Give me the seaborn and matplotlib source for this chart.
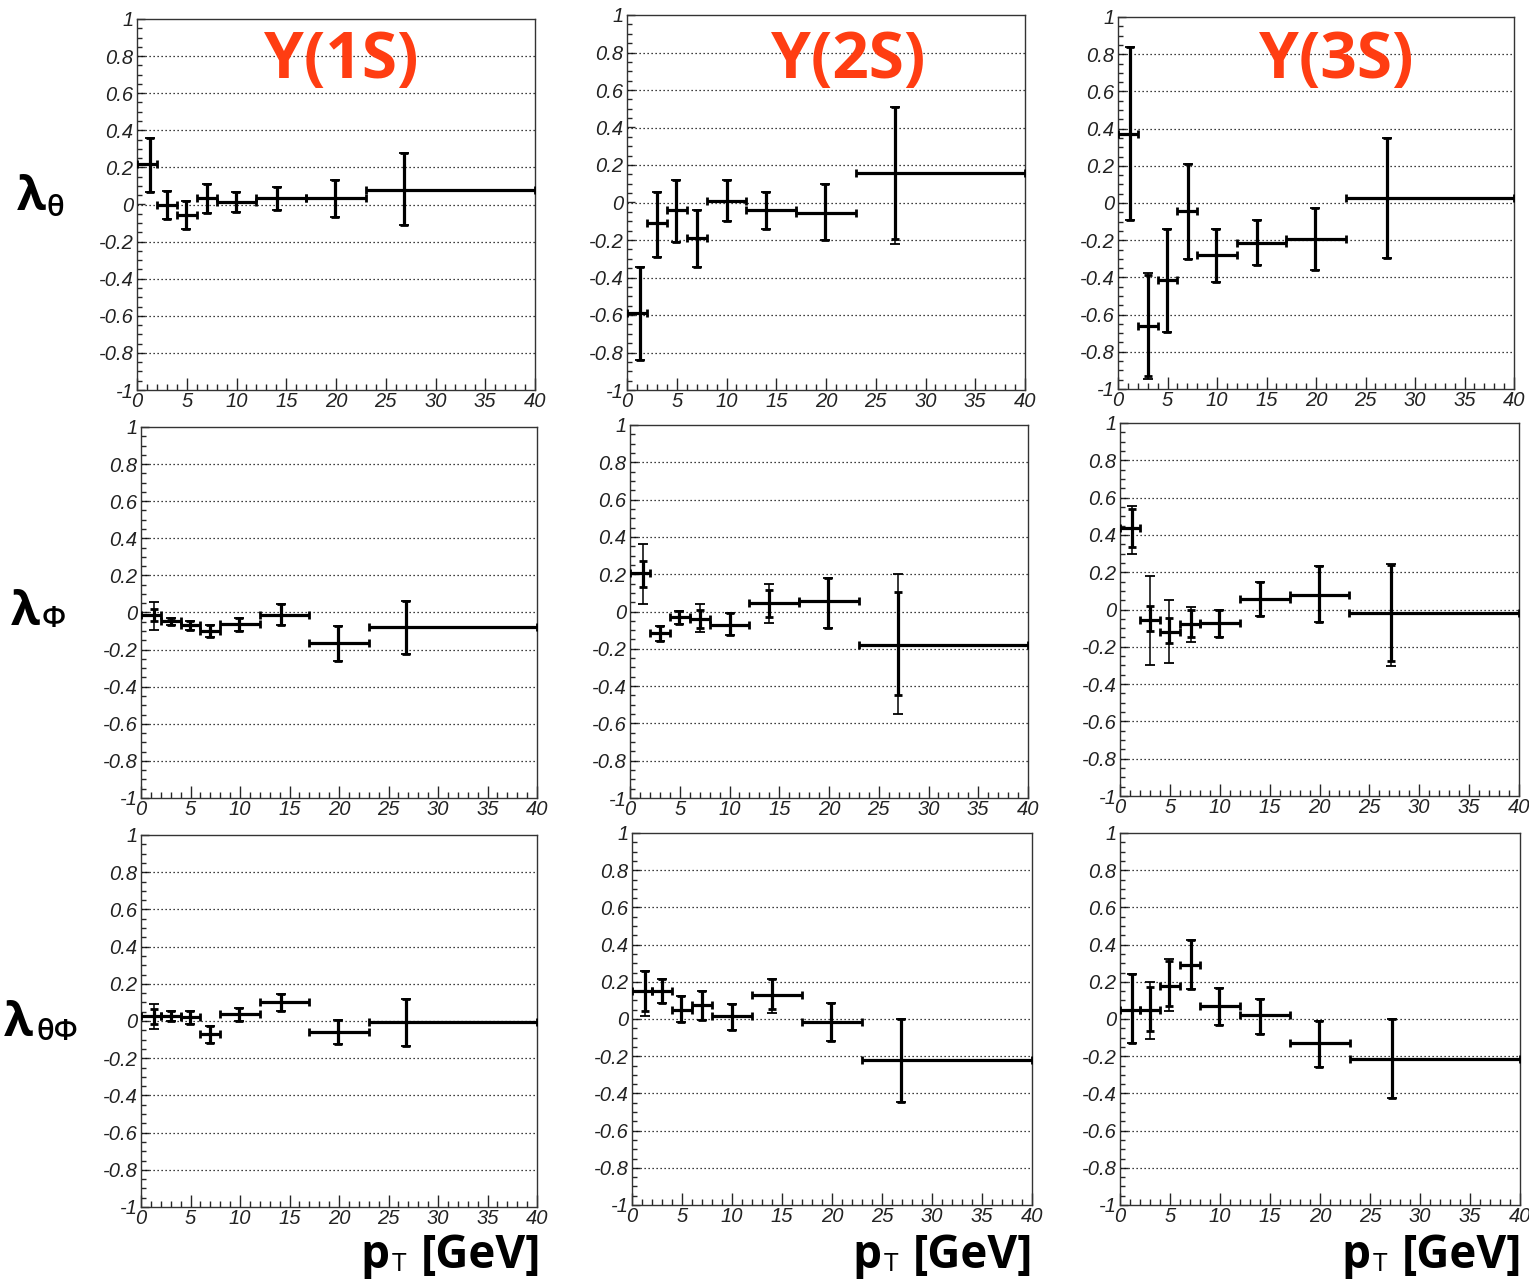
import numpy as np
import matplotlib
matplotlib.use("Agg")
import matplotlib.pyplot as plt
import seaborn as sns
from matplotlib.ticker import MultipleLocator, FuncFormatter

# ---------------- data ----------------
states = ["1S", "2S", "3S"]
params = ["theta", "phi", "thetaphi"]

pt_edges = [0, 2, 4, 6, 8, 12, 17, 23, 40]
pt_1S = [1.3, 3.0, 4.9, 7.0, 9.9, 14.1, 19.9, 26.8]
pt_2S = [1.3, 3.0, 4.9, 7.0, 10.0, 14.0, 19.9, 26.9]
pt_3S = [1.2, 3.0, 4.9, 7.1, 9.9, 14.0, 19.9, 27.2]

# lambda_theta
lth_1S = [0.22, 0.0, -0.057, 0.036, 0.013, 0.034, 0.034, 0.08]
lth_1S_lo = [0.07, -0.077, -0.13, -0.045, -0.04, -0.032, -0.066, -0.113]
lth_1S_hi = [0.36, 0.075, 0.018, 0.11, 0.068, 0.093, 0.133, 0.28]
lth_1S_tlo = [0.07, -0.077, -0.13, -0.045, -0.04, -0.032, -0.066, -0.113]
lth_1S_thi = [0.36, 0.075, 0.018, 0.11, 0.068, 0.093, 0.133, 0.28]

lth_2S = [-0.59, -0.11, -0.04, -0.19, 0.01, -0.04, -0.057, 0.155]
lth_2S_lo = [-0.84, -0.29, -0.21, -0.345, -0.10, -0.14, -0.2, -0.195]
lth_2S_hi = [-0.343, 0.057, 0.12, -0.04, 0.12, 0.057, 0.1, 0.507]
lth_2S_tlo = [-0.84, -0.29, -0.21, -0.345, -0.10, -0.14, -0.2, -0.22]
lth_2S_thi = [-0.343, 0.057, 0.12, -0.04, 0.12, 0.057, 0.1, 0.507]

lth_3S = [0.37, -0.66, -0.415, -0.045, -0.277, -0.215, -0.193, 0.027]
lth_3S_lo = [-0.093, -0.93, -0.695, -0.30, -0.425, -0.335, -0.358, -0.295]
lth_3S_hi = [0.84, -0.385, -0.14, 0.21, -0.14, -0.093, -0.029, 0.35]
lth_3S_tlo = [-0.093, -0.945, -0.695, -0.30, -0.425, -0.335, -0.358, -0.295]
lth_3S_thi = [0.84, -0.375, -0.14, 0.21, -0.14, -0.093, -0.029, 0.35]

# lambda_phi
lph_1S = [-0.014, -0.045, -0.07, -0.098, -0.06, -0.013, -0.165, -0.079]
lph_1S_lo = [-0.045, -0.066, -0.093, -0.134, -0.10, -0.068, -0.263, -0.224]
lph_1S_hi = [0.018, -0.03, -0.045, -0.068, -0.027, 0.045, -0.075, 0.063]
lph_1S_tlo = [-0.093, -0.066, -0.093, -0.134, -0.10, -0.068, -0.263, -0.224]
lph_1S_thi = [0.057, -0.03, -0.045, -0.068, -0.027, 0.045, -0.075, 0.063]

lph_2S = [0.205, -0.116, -0.027, -0.04, -0.07, 0.045, 0.054, -0.18]
lph_2S_lo = [0.134, -0.157, -0.066, -0.09, -0.125, -0.027, -0.086, -0.446]
lph_2S_hi = [0.27, -0.077, 0.005, 0.01, -0.01, 0.116, 0.18, 0.107]
lph_2S_tlo = [0.041, -0.157, -0.066, -0.11, -0.125, -0.062, -0.086, -0.55]
lph_2S_thi = [0.36, -0.077, 0.005, 0.04, -0.01, 0.15, 0.18, 0.2]

lph_3S = [0.437, -0.055, -0.118, -0.077, -0.071, 0.057, 0.08, -0.02]
lph_3S_lo = [0.333, -0.116, -0.18, -0.148, -0.148, -0.036, -0.068, -0.276]
lph_3S_hi = [0.54, 0.018, -0.046, 0.0, 0.0, 0.146, 0.233, 0.239]
lph_3S_tlo = [0.298, -0.3, -0.287, -0.175, -0.148, -0.036, -0.068, -0.305]
lph_3S_thi = [0.556, 0.182, 0.052, 0.012, 0.0, 0.146, 0.233, 0.244]

# lambda_theta_phi
ltp_1S = [0.027, 0.027, 0.023, -0.068, 0.04, 0.102, -0.057, -0.004]
ltp_1S_lo = [-0.018, 0.0, -0.018, -0.117, 0.0, 0.054, -0.126, -0.135]
ltp_1S_hi = [0.063, 0.052, 0.054, -0.027, 0.072, 0.147, 0.005, 0.12]
ltp_1S_tlo = [-0.045, 0.0, -0.018, -0.117, 0.0, 0.054, -0.126, -0.135]
ltp_1S_thi = [0.09, 0.052, 0.054, -0.027, 0.072, 0.147, 0.005, 0.12]

ltp_2S = [0.148, 0.148, 0.05, 0.073, 0.018, 0.13, -0.016, -0.221]
ltp_2S_lo = [0.041, 0.086, -0.016, -0.007, -0.057, 0.055, -0.12, -0.444]
ltp_2S_hi = [0.26, 0.214, 0.125, 0.153, 0.082, 0.214, 0.086, 0.0]
ltp_2S_tlo = [0.014, 0.086, -0.016, -0.007, -0.057, 0.032, -0.12, -0.444]
ltp_2S_thi = [0.26, 0.214, 0.125, 0.153, 0.082, 0.214, 0.086, 0.0]

ltp_3S = [0.05, 0.05, 0.18, 0.29, 0.068, 0.02, -0.129, -0.214]
ltp_3S_lo = [-0.129, -0.0625, 0.068, 0.163, -0.03, -0.079, -0.257, -0.423]
ltp_3S_hi = [0.241, 0.17, 0.31, 0.425, 0.166, 0.109, -0.009, 0.0]
ltp_3S_tlo = [-0.129, -0.105, 0.041, 0.163, -0.03, -0.079, -0.257, -0.423]
ltp_3S_thi = [0.241, 0.2, 0.32, 0.425, 0.166, 0.109, -0.009, 0.0]

titles = ["\u03a5(1S)", "\u03a5(2S)", "\u03a5(3S)"]
row_sub = ["\u03b8", "\u03a6", "\u03b8\u03a6"]

# ---------------- assemble ----------------
pts = {"1S": pt_1S, "2S": pt_2S, "3S": pt_3S}
G = globals()
pref = {"theta": "lth", "phi": "lph", "thetaphi": "ltp"}

# ---------------- style ----------------
sns.set_theme(style="white")
plt.rcParams["font.family"] = ["Liberation Sans", "DejaVu Sans"]

W, H = 1529, 1282
fig = plt.figure(figsize=(W / 100, H / 100), dpi=100)
fig.patch.set_facecolor("white")

boxes = [
    [(137, 19, 535, 390), (627, 15, 1025, 390), (1118, 17, 1514, 389)],
    [(141, 427, 537, 798), (630, 425, 1028, 798), (1120, 423, 1519, 796)],
    [(141, 835, 537, 1207), (632, 833, 1032, 1205), (1120, 833, 1520, 1205)],
]

def fmt_y(v, pos):
    v = round(v, 2)
    if abs(v) < 1e-9:
        return "0"
    return f"{v:g}"

for r, p in enumerate(params):
    for c, s in enumerate(states):
        l, t, rr, b = boxes[r][c]
        ax = fig.add_axes([l / W, 1 - b / H, (rr - l) / W, (b - t) / H])
        ax.set_facecolor("white")
        base = f"{pref[p]}_{s}"
        x = np.array(pts[s])
        y = np.array(G[base])
        lo = np.array(G[base + "_lo"])
        hi = np.array(G[base + "_hi"])
        tlo = np.array(G[base + "_tlo"])
        thi = np.array(G[base + "_thi"])
        e = np.array(pt_edges)
        xl = x - e[:-1]
        xh = e[1:] - x
        # total (thin)
        ax.errorbar(x, y, yerr=[y - tlo, thi - y], fmt="none", ecolor="black",
                    elinewidth=1.1, capsize=3.5, capthick=1.3, zorder=3)
        # stat (thick) + bin width
        ax.errorbar(x, y, xerr=[xl, xh], yerr=[y - lo, hi - y], fmt="none",
                    ecolor="black", elinewidth=2.3, capsize=3.2, capthick=2.0, zorder=4)

        ax.set_xlim(0, 40)
        ax.set_ylim(-1, 1)
        ax.xaxis.set_major_locator(MultipleLocator(5))
        ax.xaxis.set_minor_locator(MultipleLocator(1))
        ax.yaxis.set_major_locator(MultipleLocator(0.2))
        ax.yaxis.set_minor_locator(MultipleLocator(0.05))
        ax.yaxis.set_major_formatter(FuncFormatter(fmt_y))
        ax.xaxis.set_major_formatter(FuncFormatter(lambda v, pos: f"{v:g}"))
        for gy in np.arange(-0.8, 0.81, 0.2):
            ax.axhline(gy, color="black", lw=0.9, ls=(0, (1, 2.2)), zorder=1)
        ax.tick_params(axis="x", which="major", direction="in", length=8.5, width=1.0,
                       bottom=True, top=False, pad=1.5, labelsize=14.5)
        ax.tick_params(axis="x", which="minor", direction="in", length=4.5, width=1.0,
                       bottom=True, top=False)
        ax.tick_params(axis="y", which="major", direction="in", length=6, width=1.0,
                       left=True, right=False, pad=2.5, labelsize=14.5)
        ax.tick_params(axis="y", which="minor", direction="in", length=3.5, width=1.0,
                       left=True, right=False)
        for lab in ax.get_xticklabels() + ax.get_yticklabels():
            lab.set_fontstyle("italic")
            lab.set_color("#222222")
        for sp in ax.spines.values():
            sp.set_color("#333333")
            sp.set_linewidth(1.0)
        ax.grid(False)

# titles
title_x = [341, 848, 1336]
for c, txt in enumerate(titles):
    fig.text(title_x[c] / W, 1 - 62 / H, txt, fontsize=46, fontweight="bold",
             color="#FF3D12", ha="center", va="center", family=["Open Sans", "DejaVu Sans"])

# row labels
lam_pos = [(17, 197), (11, 612), (4, 1024)]
sub_pos = [(47, 208), (42, 620), (36, 1032)]
for r in range(3):
    lx, ly = lam_pos[r]
    sx, sy = sub_pos[r]
    fig.text(lx / W, 1 - ly / H, "\u03bb", fontsize=34, fontweight="bold", color="black",
             ha="left", va="center", family=["Open Sans", "DejaVu Sans"])
    fig.text(sx / W, 1 - sy / H, row_sub[r], fontsize=21, fontweight="semibold", color="black",
             ha="left", va="center", family=["Open Sans", "DejaVu Sans"])

# x axis titles
right_x = [541, 1033, 1522]
for c in range(3):
    rx = right_x[c]
    fig.text(rx / W, 1 - 1268 / H, "[GeV]", fontsize=33, fontweight="bold", color="black",
             ha="right", va="baseline", family=["Open Sans", "DejaVu Sans"])
    fig.text((rx - 181) / W, 1 - 1268 / H, "p", fontsize=33, fontweight="bold", color="black",
             ha="left", va="baseline", family=["Open Sans", "DejaVu Sans"])
    fig.text((rx - 149) / W, 1 - 1271 / H, "T", fontsize=19, color="black",
             ha="left", va="baseline", family=["Open Sans", "DejaVu Sans"])

fig.savefig("out.png", dpi=100, facecolor="white")
